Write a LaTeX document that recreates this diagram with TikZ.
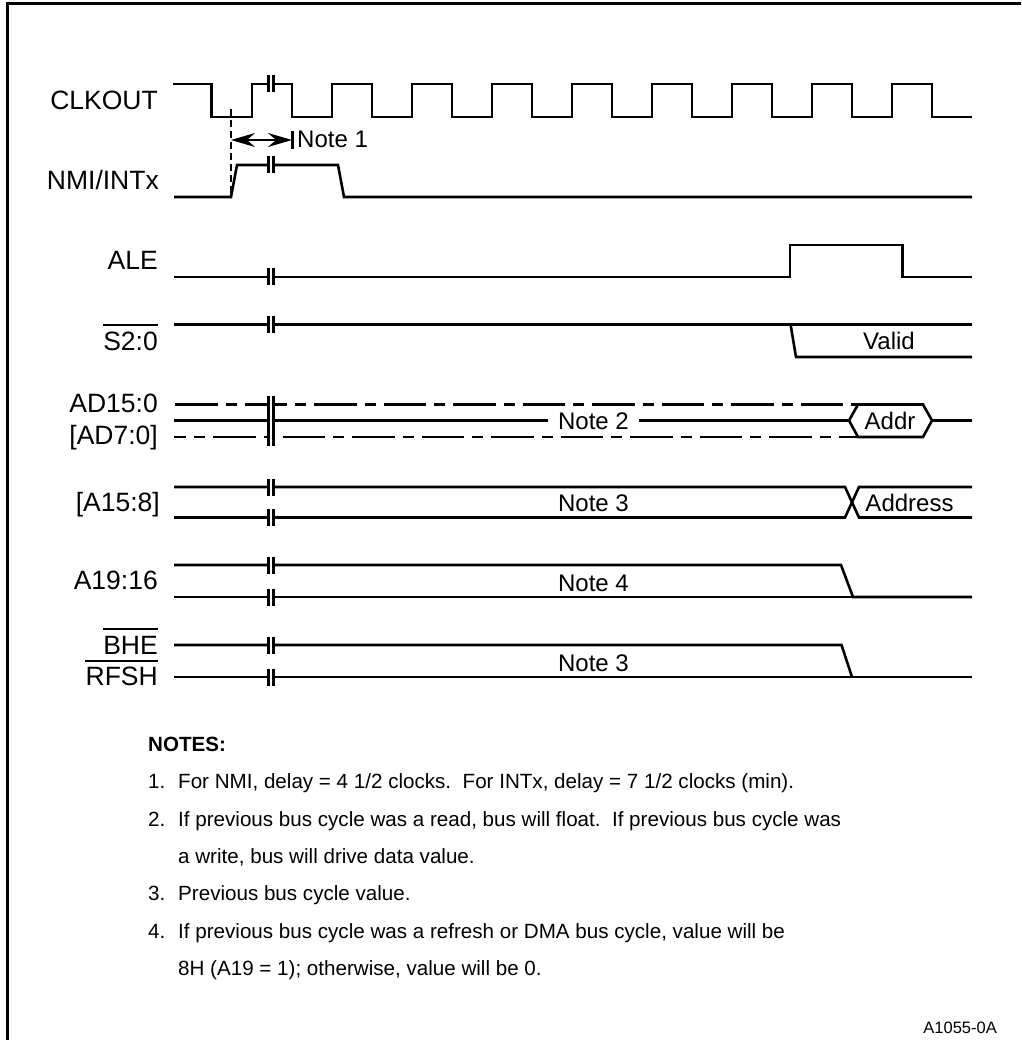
\documentclass[tikz,border=0pt]{standalone}
\usepackage{fontspec}
\setmainfont{Liberation Sans}
\usetikzlibrary{arrows.meta}

\begin{document}
\begin{tikzpicture}[x=1pt,y=-1pt,line join=miter,
    wave/.style={line width=2.6pt},
    sig/.style={font=\fontsize{26.5}{28}\selectfont,anchor=base east,inner sep=0pt},
    sigbar/.style={sig,text height=24.5pt},
    bar/.style={line width=2pt},
    val/.style={font=\fontsize{24}{26}\selectfont,anchor=base,inner sep=0pt},
    note/.style={font=\fontsize{20.6}{22}\selectfont,anchor=base west,inner sep=0pt},
    dashA/.style={line width=2.6pt,dash pattern=on 42.5pt off 8pt on 11pt off 8pt}]
  \useasboundingbox (0,0) rectangle (1021,1040);
  % frame
  \draw[line width=3.2pt] (7.5,1040) -- (7.5,3.5) -- (1021,3.5);

  % signal names
  \node[sig] (clkout) at (158,110) {CLKOUT};
  \node[sig] (nmi) at (159,190) {NMI/INTx};
  \node[sig] (ale) at (158,270) {ALE};
  \node[sigbar] (status) at (158,350) {S2:0};
  \node[sig] (ad) at (158,412) {AD15:0};
  \node[sig] (adlow) at (158,444) {[AD7:0]};
  \node[sig] (ahigh) at (160,511) {[A15:8]};
  \node[sig] (aseg) at (158,589) {A19:16};
  \node[sigbar] (bhe) at (158,654) {BHE};
  \node[sigbar] (rfsh) at (158,685.5) {RFSH};
  \draw[bar] (status.north west) -- (status.north east);
  \draw[bar] (bhe.north west) -- (bhe.north east);
  \draw[bar] (rfsh.north west) -- (rfsh.north east);

  % CLKOUT
  \draw[wave] (173,84) -- (211.5,84) -- (211.5,117) -- (252,117) -- (252,84) -- (292,84) -- (292,117) -- (332,117)
    \foreach \x in {332,412,492,572,652,732,812,892} {
      -- (\x,117) -- (\x,84) -- ({\x+40},84) -- ({\x+40},117) } -- (972,117);
  % NMI/INTx
  \draw[wave] (174,197) -- (231,197) -- (237,165) -- (338,165) -- (344,197) -- (972,197);
  \draw[line width=2.6pt,dash pattern=on 7pt off 4pt] (231,109) -- (231,197);
  \draw[line width=2pt,{Stealth[length=24pt,width=14pt,inset=8pt]}-{Stealth[length=24pt,width=14pt,inset=8pt]}] (231,140) -- (292,140);
  \draw[line width=3pt] (292,131) -- (292,149);
  \node[val,anchor=base west] (noteone) at (297,148) {Note 1};
  % ALE
  \draw[wave] (174,277) -- (790,277) -- (790,245) -- (902.5,245) -- (902.5,277) -- (972,277);
  % S2:0
  \draw[wave,line width=3pt] (174,324) -- (972,324);
  \draw[wave] (790.5,324) -- (796,357) -- (972,357);
  \node[val] (valid) at (889,349) {Valid};
  % AD15:0 [AD7:0]
  \draw[dashA] (175,404.5) -- (858,404.5);
  \draw[dashA,dash phase=30.5pt] (174,437) -- (858,437);
  \draw[wave,line width=3pt] (174,420.5) -- (849,420.5);
  \node[val,fill=white,inner xsep=10pt,inner ysep=0pt] (notetwo) at (593.5,429) {Note 2};
  \draw[wave] (849,420.5) -- (858,404.5) -- (923,404.5) -- (932,420.5) -- (923,437) -- (858,437) -- cycle;
  \draw[wave,line width=3pt] (932,420.5) -- (972,420.5);
  \node[val] (addr) at (890,429) {Addr};
  % [A15:8]
  \draw[wave] (174,487) -- (845,487) -- (859,517.5) -- (972,517.5);
  \draw[wave] (174,517.5) -- (845,517.5) -- (859,487) -- (972,487);
  \node[val] (notethree) at (593.5,511.5) {Note 3};
  \node[val] (address) at (909.5,511) {Address};
  % A19:16
  \draw[wave] (174,565) -- (841,565) -- (853,597) -- (972,597);
  \draw[wave] (174,597) -- (853,597);
  \node[val] (notefour) at (593.5,591) {Note 4};
  % BHE RFSH
  \draw[wave] (174,645) -- (841.5,645) -- (852,677);
  \draw[wave] (174,677) -- (972,677);
  \node[val] (notefive) at (593.5,671) {Note 3};

  % break marks
  \foreach \y in {84,165,277,324,487,517.5,565,597,645,677} {
    \fill[white] (268,{\y-8.5}) rectangle (273.5,{\y+8.5});
    \draw[line width=3pt] (268,{\y-8.5}) -- (268,{\y+8.5}) (273.5,{\y-8.5}) -- (273.5,{\y+8.5});
  }
  \fill[white] (268,396) rectangle (273.5,446);
  \draw[line width=3pt] (268,396) -- (268,446) (273.5,396) -- (273.5,446);

  % notes
  \node[note,font=\fontsize{20.6}{22}\selectfont\bfseries] (notes) at (148,751) {NOTES:};
  \node[note] (nb1) at (148,788) {1.};
  \node[note] (n1) at (178,788) {For NMI, delay = 4 1/2 clocks.\ \ For INTx, delay = 7 1/2 clocks (min).};
  \node[note] (nb2) at (148,826) {2.};
  \node[note] (n2) at (178,826) {If previous bus cycle was a read, bus will float.\ \ If previous bus cycle was};
  \node[note] (n2b) at (178,863) {a write, bus will drive data value.};
  \node[note] (nb3) at (148,900) {3.};
  \node[note] (n3) at (178,900) {Previous bus cycle value.};
  \node[note] (nb4) at (148,938) {4.};
  \node[note] (n4) at (178,938) {If previous bus cycle was a refresh or DMA bus cycle, value will be};
  \node[note] (n4b) at (178,975) {8H (A19 = 1); otherwise, value will be 0.};
  \node[font=\fontsize{16.5}{18}\selectfont,anchor=base east,inner sep=0pt] (figid) at (997,1033) {A1055-0A};
\end{tikzpicture}
\end{document}
